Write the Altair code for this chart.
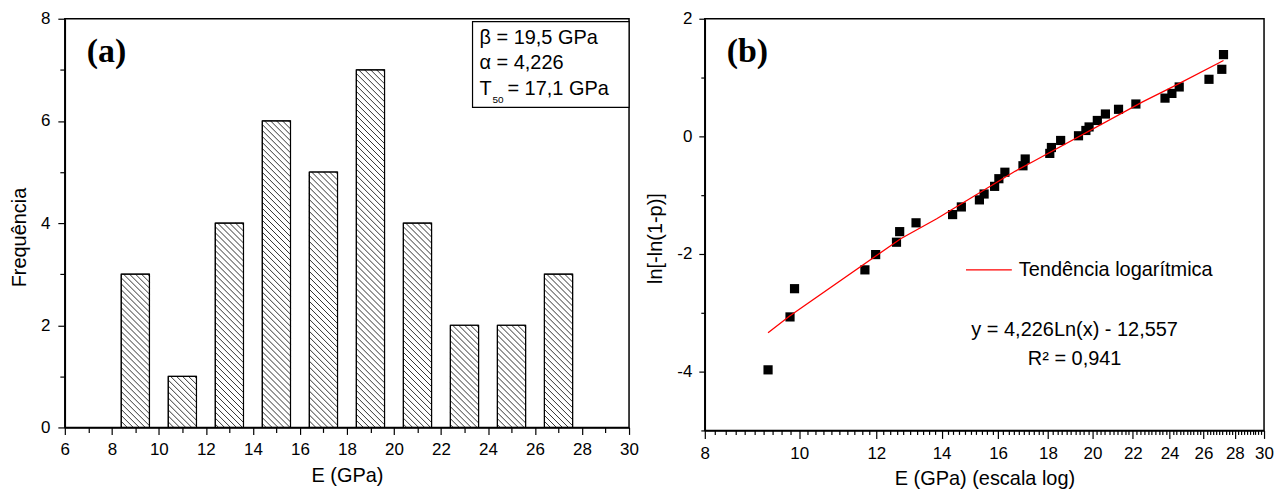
import altair as alt
import pandas as pd

# ---------------- data ----------------
# Panel (a): histogram of E (GPa)
bin_centers = [9, 11, 13, 15, 17, 19, 21, 23, 25, 27]
counts = [3, 1, 4, 6, 5, 7, 4, 2, 2, 3]

# Panel (b): Weibull plot
e_gpa = [9.29, 9.785, 9.89, 11.68, 11.98, 12.585, 12.68, 13.18, 14.37, 14.67,
         15.31, 15.48, 15.87, 16.03, 16.26, 16.97, 17.06, 18.08, 18.15, 18.55,
         19.35, 19.69, 19.84, 20.23, 20.62, 21.27, 22.16, 23.74, 24.13, 24.55,
         26.34, 27.15, 27.26]
lnln = [-3.97, -3.07, -2.59, -2.27, -2.01, -1.80, -1.62, -1.47, -1.33, -1.20,
        -1.08, -0.98, -0.85, -0.72, -0.61, -0.50, -0.385, -0.29, -0.19, -0.07,
        0.01, 0.10, 0.16, 0.27, 0.38, 0.46, 0.55, 0.65, 0.73, 0.84,
        0.97, 1.14, 1.39]
# red trend curve as drawn in the figure
trend_x = [9.29, 9.785, 12.71, 13.84, 16.67, 17.46, 22.54, 24.17, 27.26]
trend_y = [-3.34, -3.05, -1.74, -1.40, -0.59, -0.41, 0.59, 0.84, 1.29]

# tick values
xa_ticks = list(range(6, 31))
ya_ticks = list(range(0, 9))
xb_ticks = [round(8 + 0.2 * i, 1) for i in range(111)]
yb_ticks = list(range(-5, 3))

# ---------------- layout constants ----------------
W_L, H_L = 566, 410
W_R, H_R = 561, 413
BAR_W = 1.2
HATCH = 6.0
FONT = "Liberation Sans"

bars_df = pd.DataFrame({"center": bin_centers, "count": counts})
bars_df["x0"] = bars_df["center"] - BAR_W / 2
bars_df["x1"] = bars_df["center"] + BAR_W / 2
bars_df["base"] = 0

# hatch segments ("\\" pattern) derived from the bars
sx = W_L / 24.0
sy = H_L / 8.0
segs = []
for c, n in zip(bin_centers, counts):
    left = c - BAR_W / 2
    w = BAR_W * sx
    h = n * sy
    off = -w + 2
    while off < h:
        u0 = max(0.0, -off)
        u1 = min(w, h - off)
        if u1 > u0:
            segs.append({"x": left + u0 / sx, "y": n - (u0 + off) / sy,
                         "x2": left + u1 / sx, "y2": n - (u1 + off) / sy})
        off += HATCH
hatch_df = pd.DataFrame(segs)

one = pd.DataFrame({"a": [0]})


def label_text(txt, x, y, size=20, align="left", font=FONT, weight="normal", baseline="middle"):
    return alt.Chart(one).mark_text(text=txt, align=align, baseline=baseline, fontSize=size,
                                    font=font, fontWeight=weight, color="black").encode(
        x=alt.value(x), y=alt.value(y))


even_test = "abs(datum.value - 2*round(datum.value/2)) < 0.01"
even_label = "%s ? toString(round(datum.value)) : ''" % even_test


def axis(values, title, major, minor, **kw):
    return alt.Axis(values=values, title=title, tickCount=500,
                    labelExpr=even_label,
                    tickSize={"condition": {"test": even_test, "value": major}, "value": minor},
                    labelFlush=False, labelOverlap=False, grid=False, **kw)


# ---------------- panel (a) ----------------
xa_scale = alt.Scale(domain=[6, 30], nice=False, zero=False)
ya_scale = alt.Scale(domain=[0, 8], nice=False)

xa_axis = axis(xa_ticks, "E (GPa)", 7, 5, labelPadding=7, titlePadding=8)
ya_axis = axis(ya_ticks, "Frequência", 7, 5, labelPadding=8, titlePadding=11, titleY=219)

bars = alt.Chart(bars_df).mark_rect(fill="white", stroke="black", strokeWidth=1).encode(
    x=alt.X("x0:Q", scale=xa_scale, axis=xa_axis),
    x2="x1:Q",
    y=alt.Y("count:Q", scale=ya_scale, axis=ya_axis),
    y2="base:Q",
)
hatch = alt.Chart(hatch_df).mark_rule(color="black", strokeWidth=0.8).encode(
    x="x:Q", y="y:Q", x2="x2:Q", y2="y2:Q")
outline = alt.Chart(bars_df).mark_rect(fillOpacity=0, stroke="black", strokeWidth=1.2).encode(
    x="x0:Q", x2="x1:Q", y="count:Q", y2="base:Q")

box = alt.Chart(one).mark_rect(fill="white", stroke="black", strokeWidth=1.2).encode(
    x=alt.value(409), x2=alt.value(W_L), y=alt.value(3), y2=alt.value(89))

left = alt.layer(
    bars, hatch, outline, box,
    label_text("β = 19,5 GPa", 416, 19),
    label_text("α = 4,226", 416, 44),
    label_text("T", 416, 71),
    label_text("50", 429, 82, size=10),
    label_text("= 17,1 GPa", 444, 71),
    label_text("(a)", 22, 33, size=34, font="Liberation Serif", weight="bold"),
).properties(width=W_L, height=H_L)

# ---------------- panel (b) ----------------
xb_axis = axis(xb_ticks, "E (GPa) (escala log)", 8, 4, labelPadding=7, titlePadding=7)
yb_axis = axis(yb_ticks, "ln[-ln(1-p)]", 6, 4, labelPadding=7, titlePadding=11, titleY=220)
xb_scale = alt.Scale(type="log", domain=[8, 30], nice=False)
yb_scale = alt.Scale(domain=[-5, 2], nice=False, zero=False)

pts_df = pd.DataFrame({"E": e_gpa, "y": lnln})
trend_df = pd.DataFrame({"E": trend_x, "y": trend_y})

points = alt.Chart(pts_df).mark_square(size=85, color="black", opacity=1).encode(
    x=alt.X("E:Q", scale=xb_scale, axis=xb_axis),
    y=alt.Y("y:Q", scale=yb_scale, axis=yb_axis))
trend = alt.Chart(trend_df).mark_line(color="red", strokeWidth=1.3).encode(
    x="E:Q", y="y:Q", order=alt.Order("E:Q"))
leg_line = alt.Chart(one).mark_rule(color="red", strokeWidth=1.3).encode(
    x=alt.value(262), x2=alt.value(308), y=alt.value(252))

right = alt.layer(
    points, trend, leg_line,
    label_text("Tendência logarítmica", 315, 252),
    label_text("y = 4,226Ln(x) - 12,557", 371, 312, align="center"),
    label_text("R² = 0,941", 371, 341, align="center"),
    label_text("(b)", 22, 33, size=34, font="Liberation Serif", weight="bold"),
).properties(width=W_R, height=H_R)

chart = alt.hconcat(left, right, spacing=5).properties(
    padding={"left": 0, "top": 0, "right": 0, "bottom": 0}
).configure_view(stroke="black", strokeWidth=1.5).configure_axis(
    domainColor="black", domainWidth=1.5, tickColor="black", tickWidth=1.2,
    labelFont=FONT, labelFontSize=17, labelColor="black",
    titleFont=FONT, titleFontSize=20, titleFontWeight="normal", titleColor="black",
).configure_text(font=FONT)

chart.save("out.html", embed_options={"renderer": "svg", "actions": False})
